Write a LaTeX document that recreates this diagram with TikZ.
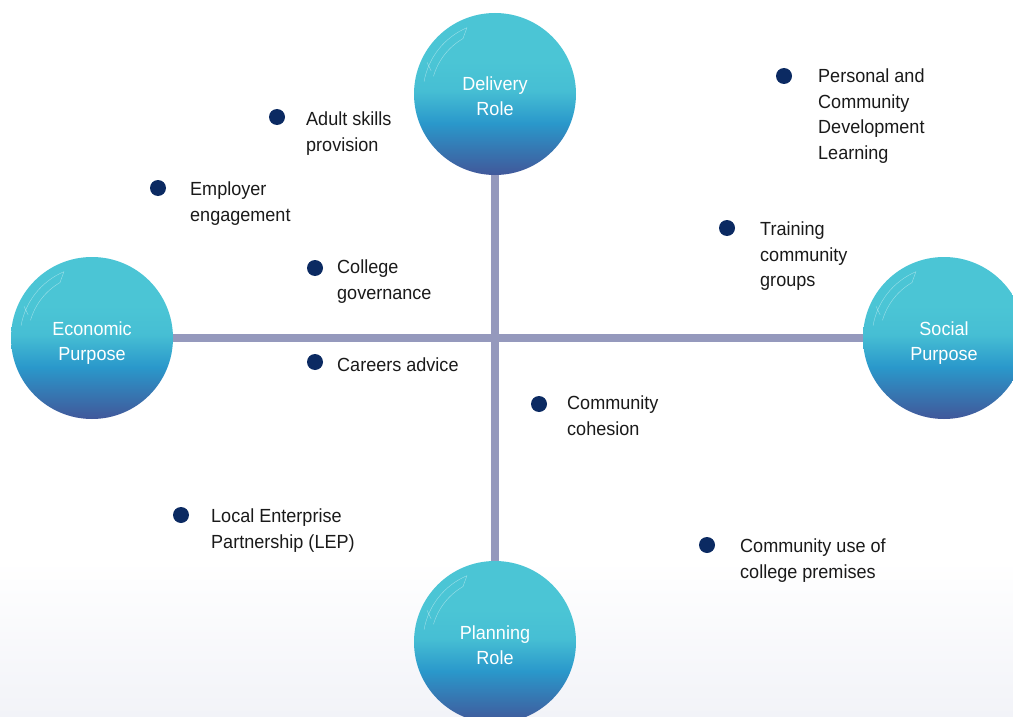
\documentclass[tikz,border=0pt]{standalone}
\usepackage{fontspec}
\setmainfont{Liberation Sans}[FakeStretch=0.95]
\usetikzlibrary{backgrounds}

\definecolor{balltop}{HTML}{4BC5D5}
\definecolor{ballmid}{HTML}{2A98CB}
\definecolor{ballbot}{HTML}{41589A}
\definecolor{axiscol}{HTML}{9599BD}
\definecolor{dotcol}{HTML}{0B2A62}
\definecolor{textcol}{HTML}{1A1A1A}
\definecolor{floorcol}{HTML}{F2F3F8}

\pgfdeclareverticalshading{bubble}{100bp}{color(0bp)=(ballbot); color(25bp)=(ballbot); color(34bp)=(ballbot!45!ballmid); color(41bp)=(ballmid); color(51bp)=(balltop!85!ballmid); color(60bp)=(balltop); color(100bp)=(balltop)}

\tikzset{
  role/.style={circle, minimum size=162pt, inner sep=0pt, shading=bubble,
    text=white, align=center, text height=44pt, text depth=0pt,
    font=\fontsize{19}{25}\selectfont},
  axis/.style={axiscol, line width=8pt},
  dot/.style={circle, fill=dotcol, minimum size=16pt, inner sep=0pt},
  item/.style={anchor=north west, inner sep=0pt, align=left, text=textcol,
    font=\fontsize{19}{25.5}\selectfont},
  glare/.style={white, opacity=0.45, line width=0.4pt}
}

\begin{document}
\begin{tikzpicture}[x=1pt, y=-1pt]
    \useasboundingbox (0,0) rectangle (1013,717);

    % the four roles and purposes
    \node[role] (deliv) at (495,94) {Delivery\\Role};
    \node[role] (econ) at (92,338) {Economic\\Purpose};
    \node[role] (social) at (944,338) {Social\\Purpose};
    \node[role] (plan) at (495,642) {Planning\\Role};

    \foreach \c in {deliv,econ,social,plan} {
        \begin{scope}[shift={(\c.center)}]
            \draw[glare] (190:72) arc (190:247:72) -- (240:64) arc (240:196:64);
            \draw[glare] (200:68) -- (205:75);
        \end{scope}
    }

    \begin{scope}[on background layer]
        \shade[top color=white, bottom color=floorcol] (0,560) rectangle (1013,717);
        \draw[axis] (econ) -- (social);
        \draw[axis] (deliv) -- (plan);
    \end{scope}

    % bullet points
    \node[dot] (d1) at (277,117) {};
    \node[item] (t1) at (306,112) {Adult skills\\provision};
    \node[dot] (d2) at (158,188) {};
    \node[item] (t2) at (190,182) {Employer\\engagement};
    \node[dot] (d3) at (315,268) {};
    \node[item] (t3) at (337,260) {College\\governance};
    \node[dot] (d4) at (315,362) {};
    \node[item] (t4) at (337,358) {Careers advice};
    \node[dot] (d5) at (181,515) {};
    \node[item] (t5) at (211,509) {Local Enterprise\\Partnership (LEP)};
    \node[dot] (d6) at (539,404) {};
    \node[item] (t6) at (567,396) {Community\\cohesion};
    \node[dot] (d7) at (707,545) {};
    \node[item] (t7) at (740,539) {Community use of\\college premises};
    \node[dot] (d8) at (727,228) {};
    \node[item] (t8) at (760,222) {Training\\community\\groups};
    \node[dot] (d9) at (784,76) {};
    \node[item] (t9) at (818,69) {Personal and\\Community\\Development\\Learning};
\end{tikzpicture}
\end{document}
